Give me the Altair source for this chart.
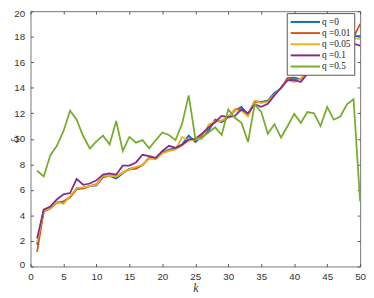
import altair as alt
import pandas as pd

k = list(range(1, 51))

q0 = [1.7, 4.3, 4.6, 5.0, 5.05, 5.45, 6.05, 6.15, 6.3, 6.35,
      7.0, 7.1, 6.9, 7.3, 7.65, 7.75, 7.95, 8.5, 8.45, 8.9,
      9.15, 9.25, 9.55, 10.25, 9.75, 10.15, 10.6, 11.5, 11.3, 11.7,
      12.2, 12.5, 11.9, 12.95, 12.9, 13.0, 13.6, 13.95, 14.75, 14.8,
      14.65, 15.3, 15.7, 16.1, 16.5, 16.9, 17.3, 17.7, 18.05, 18.05]
q001 = [1.15, 4.3, 4.55, 5.0, 5.1, 5.4, 6.1, 6.1, 6.3, 6.45,
        7.05, 7.15, 7.05, 7.35, 7.6, 7.65, 7.95, 8.5, 8.45, 8.9,
        9.1, 9.2, 9.5, 9.9, 9.9, 10.2, 10.8, 11.4, 11.35, 11.7,
        12.3, 12.3, 11.85, 12.9, 12.85, 12.95, 13.5, 14.0, 14.75, 14.6,
        14.7, 15.3, 15.7, 16.1, 16.5, 16.9, 17.3, 17.7, 17.95, 19.0]
q005 = [1.9, 4.35, 4.6, 5.05, 4.9, 5.5, 6.15, 6.2, 6.3, 6.4,
        7.1, 7.1, 7.05, 7.35, 7.6, 7.8, 7.95, 8.45, 8.4, 8.85,
        9.05, 9.15, 10.15, 9.85, 9.95, 10.0, 11.1, 11.35, 11.45, 11.75,
        12.25, 12.2, 11.75, 13.0, 12.8, 12.9, 13.45, 14.0, 14.6, 14.45,
        14.7, 15.3, 15.7, 16.1, 16.5, 16.9, 17.3, 17.6, 17.9, 17.8]
q01 = [2.2, 4.45, 4.7, 5.25, 5.65, 5.75, 6.85, 6.4, 6.5, 6.75,
       7.2, 7.3, 7.2, 7.9, 7.9, 8.15, 8.75, 8.65, 8.5, 9.05,
       9.45, 9.3, 9.55, 9.95, 10.0, 10.4, 10.9, 11.3, 11.8, 11.7,
       11.8, 12.3, 12.0, 12.7, 12.5, 12.75, 13.4, 14.0, 14.6, 14.6,
       14.45, 15.1, 15.5, 15.9, 16.3, 16.7, 17.0, 17.3, 17.45, 17.3]
q05 = [7.5, 7.05, 8.7, 9.45, 10.6, 12.2, 11.5, 10.2, 9.25, 9.8,
       10.25, 9.55, 11.4, 9.05, 10.15, 9.7, 9.9, 9.25, 9.9, 10.5,
       10.3, 9.9, 11.2, 13.4, 10.05, 10.1, 10.5, 10.9, 10.3, 12.3,
       11.65, 11.25, 9.75, 12.7, 12.1, 10.4, 11.15, 10.1, 11.0, 11.95,
       11.25, 12.1, 12.0, 11.0, 12.5, 11.5, 11.75, 12.7, 13.1, 5.1]

series_names = ["q =0", "q =0.01", "q =0.05", "q =0.1", "q =0.5"]
series_vals = [q0, q001, q005, q01, q05]
colors = ["#0072BD", "#D95319", "#EDB120", "#7E2F8E", "#77AC30"]

x_ticks = list(range(0, 51, 5))
y_ticks = list(range(0, 21, 2))

rows = []
for name, vals in zip(series_names, series_vals):
    for kk, v in zip(k, vals):
        rows.append({"k": kk, "xi": v, "series": name})
df = pd.DataFrame(rows)

tick_col = "#555555"
lab_col = "#333333"

x_scale = alt.Scale(domain=[0, 50], nice=False, zero=False)
y_scale = alt.Scale(domain=[0, 20], nice=False, zero=False)

x_bottom = alt.Axis(orient="bottom", values=x_ticks, offset=-3, tickSize=3, domain=False,
                    grid=False, labelPadding=5, labelFontSize=10, labelFont="Liberation Sans",
                    labelColor=lab_col, tickColor=tick_col, labelFlush=False,
                    title="k", titleFont="Liberation Serif", titleFontStyle="italic",
                    titleFontWeight="normal", titleFontSize=12, titlePadding=2, titleColor="#333333")
y_left = alt.Axis(orient="left", values=y_ticks, offset=-3, tickSize=3, domain=False,
                  grid=False, labelPadding=6, labelFontSize=10, labelFont="Liberation Sans",
                  labelColor=lab_col, tickColor=tick_col, labelFlush=True, labelFlushOffset=3,
                  title="ξₖ", titleFont="Liberation Serif", titleFontStyle="italic",
                  titleFontWeight="normal", titleFontSize=11, titleColor="#333333",
                  titleX=-19, titleY=130, titleAlign="center", titleBaseline="middle",
                  titleAngle=270)
x_top = alt.Axis(orient="top", values=x_ticks, offset=-3, tickSize=3, domain=False,
                 grid=False, labels=False, tickColor=tick_col, title=None)
y_right = alt.Axis(orient="right", values=y_ticks, offset=-3, tickSize=3, domain=False,
                   grid=False, labels=False, tickColor=tick_col, title=None)

lines = alt.Chart(df).mark_line(strokeWidth=1.8).encode(
    x=alt.X("k:Q", scale=x_scale, axis=x_bottom),
    y=alt.Y("xi:Q", scale=y_scale, axis=y_left),
    color=alt.Color("series:N",
                    scale=alt.Scale(domain=series_names, range=colors),
                    sort=series_names,
                    legend=alt.Legend(
                        title=None, orient="none", legendX=262, legendY=2,
                        fillColor="white", strokeColor="#555555", padding=3,
                        symbolType="M-1,0H5", symbolSize=100, symbolStrokeWidth=2,
                        labelOffset=21, labelFont="Liberation Serif", labelFontSize=9.5,
                        labelColor="#222222", rowPadding=0.4)),
)

frame = alt.Chart(df).mark_line(opacity=0).encode(
    x=alt.X("k:Q", scale=x_scale, axis=x_top),
    y=alt.Y("xi:Q", scale=y_scale, axis=y_right),
    detail="series:N",
)

chart = alt.layer(lines, frame).resolve_axis(
    x="independent", y="independent"
).properties(
    width=337, height=261,
    autosize=alt.AutoSizeParams(type="none"),
    padding={"left": 23, "top": 0, "right": 6, "bottom": 29},
).configure_view(stroke="#777777", strokeWidth=1)

chart.save("out.html", embed_options={"renderer": "svg", "actions": False})
